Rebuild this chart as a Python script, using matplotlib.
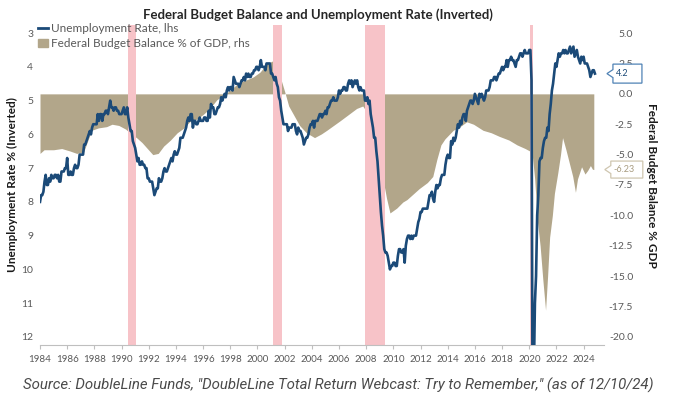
import numpy as np
import matplotlib
matplotlib.use("Agg")
import matplotlib.pyplot as plt
from matplotlib.lines import Line2D
from matplotlib.patches import Patch, Polygon
from matplotlib.transforms import Affine2D

# unemployment rate, monthly, Jan 1984 .. Nov 2024 (lhs, inverted)
unemp = [
    8.0, 7.8, 7.8, 7.7, 7.4, 7.2, 7.5, 7.5, 7.3, 7.4, 7.2, 7.3,   # 1984
    7.3, 7.2, 7.2, 7.3, 7.2, 7.4, 7.4, 7.1, 7.1, 7.1, 7.0, 7.0,   # 1985
    6.7, 7.2, 7.2, 7.1, 7.2, 7.2, 7.0, 6.9, 7.0, 7.0, 6.9, 6.6,   # 1986
    6.6, 6.6, 6.6, 6.3, 6.3, 6.2, 6.1, 6.0, 5.9, 6.0, 5.8, 5.7,   # 1987
    5.7, 5.7, 5.7, 5.4, 5.6, 5.4, 5.4, 5.6, 5.4, 5.4, 5.3, 5.3,   # 1988
    5.4, 5.2, 5.0, 5.2, 5.2, 5.3, 5.2, 5.2, 5.3, 5.3, 5.4, 5.4,   # 1989
    5.4, 5.3, 5.2, 5.4, 5.4, 5.2, 5.5, 5.7, 5.9, 5.9, 6.2, 6.3,   # 1990
    6.4, 6.6, 6.8, 6.7, 6.9, 6.9, 6.8, 6.9, 6.9, 7.0, 7.0, 7.3,   # 1991
    7.3, 7.4, 7.4, 7.4, 7.6, 7.8, 7.7, 7.6, 7.6, 7.3, 7.4, 7.4,   # 1992
    7.3, 7.1, 7.0, 7.1, 7.1, 7.0, 6.9, 6.8, 6.7, 6.8, 6.6, 6.5,   # 1993
    6.6, 6.6, 6.5, 6.4, 6.1, 6.1, 6.1, 6.0, 5.9, 5.8, 5.6, 5.5,   # 1994
    5.6, 5.4, 5.4, 5.8, 5.6, 5.6, 5.7, 5.7, 5.6, 5.5, 5.6, 5.6,   # 1995
    5.6, 5.5, 5.5, 5.6, 5.6, 5.3, 5.5, 5.1, 5.2, 5.2, 5.4, 5.4,   # 1996
    5.3, 5.2, 5.2, 5.1, 4.9, 5.0, 4.9, 4.8, 4.9, 4.7, 4.6, 4.7,   # 1997
    4.6, 4.6, 4.7, 4.3, 4.4, 4.5, 4.5, 4.5, 4.6, 4.5, 4.4, 4.4,   # 1998
    4.3, 4.4, 4.2, 4.3, 4.2, 4.3, 4.3, 4.2, 4.2, 4.1, 4.1, 4.0,   # 1999
    4.0, 4.1, 4.0, 3.8, 4.0, 4.0, 4.0, 4.1, 3.9, 3.9, 3.9, 3.9,   # 2000
    4.2, 4.2, 4.3, 4.4, 4.3, 4.5, 4.6, 4.9, 5.0, 5.3, 5.5, 5.7,   # 2001
    5.7, 5.7, 5.7, 5.9, 5.8, 5.8, 5.8, 5.7, 5.7, 5.7, 5.9, 6.0,   # 2002
    5.8, 5.9, 5.9, 6.0, 6.1, 6.3, 6.2, 6.1, 6.1, 6.0, 5.8, 5.7,   # 2003
    5.7, 5.6, 5.8, 5.6, 5.6, 5.6, 5.5, 5.4, 5.4, 5.5, 5.4, 5.4,   # 2004
    5.3, 5.4, 5.2, 5.2, 5.1, 5.0, 5.0, 4.9, 5.0, 5.0, 5.0, 4.9,   # 2005
    4.7, 4.8, 4.7, 4.7, 4.6, 4.6, 4.7, 4.7, 4.5, 4.4, 4.5, 4.4,   # 2006
    4.6, 4.5, 4.4, 4.5, 4.4, 4.6, 4.7, 4.6, 4.7, 4.7, 4.7, 5.0,   # 2007
    5.0, 4.9, 5.1, 5.0, 5.4, 5.6, 5.8, 6.1, 6.1, 6.5, 6.8, 7.3,   # 2008
    7.8, 8.3, 8.7, 9.0, 9.4, 9.5, 9.5, 9.6, 9.8, 10.0, 9.9, 9.9,  # 2009
    9.8, 9.8, 9.9, 9.9, 9.6, 9.4, 9.4, 9.5, 9.5, 9.4, 9.8, 9.3,   # 2010
    9.1, 9.0, 9.0, 9.1, 9.0, 9.1, 9.0, 9.0, 9.0, 8.8, 8.6, 8.5,   # 2011
    8.3, 8.3, 8.2, 8.2, 8.2, 8.2, 8.2, 8.0, 7.8, 7.8, 7.7, 7.9,   # 2012
    8.0, 7.7, 7.5, 7.6, 7.5, 7.5, 7.3, 7.2, 7.2, 7.2, 6.9, 6.7,   # 2013
    6.6, 6.7, 6.7, 6.2, 6.3, 6.1, 6.2, 6.1, 5.9, 5.7, 5.8, 5.6,   # 2014
    5.7, 5.5, 5.4, 5.4, 5.6, 5.3, 5.2, 5.1, 5.0, 5.0, 5.1, 5.0,   # 2015
    4.8, 4.9, 5.0, 5.1, 4.8, 4.9, 4.8, 4.9, 5.0, 4.9, 4.7, 4.7,   # 2016
    4.7, 4.6, 4.4, 4.4, 4.4, 4.3, 4.3, 4.4, 4.3, 4.2, 4.2, 4.1,   # 2017
    4.0, 4.1, 4.0, 4.0, 3.8, 4.0, 3.8, 3.8, 3.7, 3.8, 3.8, 3.9,   # 2018
    4.0, 3.8, 3.8, 3.7, 3.6, 3.6, 3.7, 3.6, 3.5, 3.6, 3.6, 3.6,   # 2019
    3.5, 3.5, 4.4, 14.8, 13.2, 11.0, 10.2, 8.4, 7.8, 6.8, 6.7, 6.7,  # 2020
    6.4, 6.2, 6.1, 6.1, 5.8, 5.9, 5.4, 5.1, 4.7, 4.5, 4.2, 3.9,   # 2021
    4.0, 3.8, 3.6, 3.7, 3.6, 3.6, 3.5, 3.6, 3.5, 3.6, 3.6, 3.5,   # 2022
    3.4, 3.6, 3.5, 3.4, 3.7, 3.6, 3.5, 3.7, 3.8, 3.9, 3.7, 3.8,   # 2023
    3.7, 3.9, 3.9, 3.9, 4.0, 4.1, 4.3, 4.2, 4.1, 4.1, 4.2,        # 2024
]
unemp_t = 1984 + np.arange(len(unemp)) / 12.0

# federal budget balance % of GDP (rhs)
bud_t = [1984.0, 1984.3, 1985.0, 1985.6, 1986.2, 1986.7, 1987.2, 1987.5, 1987.8, 1988.3,
         1988.9, 1989.3, 1989.8, 1990.3, 1990.7, 1991.1, 1991.5, 1991.9, 1992.3, 1992.7,
         1993.1, 1993.6, 1994.1, 1994.6, 1995.0, 1995.5, 1996.0, 1996.5, 1997.0, 1997.5,
         1998.0, 1998.4, 1998.8, 1999.3, 1999.7, 2000.2, 2000.7, 2001.1, 2001.4, 2001.7,
         2002.0, 2002.3, 2002.7, 2003.1, 2003.6, 2004.2, 2004.7, 2005.1, 2005.6, 2006.1,
         2006.7, 2007.3, 2007.75, 2008.1, 2008.4, 2008.8, 2009.2, 2009.5, 2009.75, 2010.25,
         2010.7, 2011.0, 2011.4, 2011.9, 2012.5, 2012.9, 2013.2, 2013.5, 2013.8, 2014.4,
         2014.9, 2015.4, 2015.9, 2016.6, 2017.2, 2017.8, 2018.5, 2019.1, 2019.7, 2020.2,
         2020.4, 2020.6, 2020.8, 2021.0, 2021.2, 2021.35, 2021.5, 2021.7, 2021.85, 2022.1,
         2022.3, 2022.45, 2022.7, 2022.95, 2023.2, 2023.4, 2023.55, 2023.85, 2024.1, 2024.3,
         2024.5, 2024.65, 2024.75]
bud_v = [-4.9, -4.6, -4.6, -4.5, -4.7, -4.9, -4.8, -3.9, -3.0, -2.8,
         -2.7, -2.5, -2.6, -2.9, -3.3, -3.6, -4.0, -4.5, -5.0, -4.9,
         -4.3, -3.8, -3.2, -2.8, -2.3, -2.1, -1.7, -1.2, -0.5, -0.1,
         0.3, 0.7, 1.0, 1.2, 1.4, 1.8, 2.5, 2.7, 2.3, 1.3,
         0.2, -1.0, -1.8, -2.6, -3.2, -3.6, -3.3, -3.0, -2.6, -2.2,
         -1.7, -1.2, -1.0, -1.6, -2.6, -4.9, -6.8, -8.6, -9.8, -9.4,
         -8.9, -8.7, -8.3, -7.8, -7.3, -6.8, -5.4, -4.2, -3.7, -3.0,
         -2.7, -2.3, -2.5, -3.0, -3.2, -3.5, -3.8, -4.2, -4.5, -4.8,
         -7.0, -10.5, -12.5, -15.3, -17.8, -15.0, -11.8, -10.0, -8.2, -6.5,
         -5.0, -3.6, -4.6, -5.7, -6.8, -8.1, -7.0, -6.0, -6.6, -6.3,
         -5.9, -6.2, -6.23]

# recessions
rec_start = [1990.45, 2001.15, 2007.92, 2020.08]
rec_end = [1991.1, 2001.82, 2009.42, 2020.3]

years = list(range(1984, 2025, 2))
left_ticks = list(range(3, 13))
right_ticks = [5.0, 2.5, 0.0, -2.5, -5.0, -7.5, -10.0, -12.5, -15.0, -17.5, -20.0]

navy = "#1b4a78"
tan = "#b2a68a"
pink = "#f7c3c8"
grey = "#595959"

plt.rcParams['font.family'] = ['Lato', 'DejaVu Sans']

fig = plt.figure(figsize=(6.76, 4.05), dpi=100)
ax = fig.add_axes([40 / 676, 1 - 345 / 405, 564 / 676, 320 / 405])
ax2 = ax.twinx()

# budget balance (rhs) + recession bars on the lower axes
ax.fill_between(bud_t, bud_v, 0, color=tan, linewidth=0, zorder=1)
for s, e in zip(rec_start, rec_end):
    ax.axvspan(s, e, color=pink, linewidth=0, zorder=2)
pad = 0.24 * 25 / 9
ax.set_ylim(-20 - pad, 5 + pad)
ax.set_xlim(1984, 2025.5)
ax.yaxis.tick_right()
ax.set_yticks(right_ticks)
ax.set_yticklabels(["%.1f" % v for v in right_ticks])
for lab in ax.get_yticklabels():
    lab.set_horizontalalignment('right')
ax.tick_params(axis='y', length=0, pad=21, labelsize=7.5, labelcolor=grey)

# unemployment (lhs, inverted) on top
ax2.plot(unemp_t, unemp, color=navy, lw=1.9, zorder=3)
ax2.set_ylim(12.24, 2.76)
ax2.yaxis.tick_left()
ax2.set_yticks(left_ticks)
ax2.tick_params(axis='y', length=0, pad=5, labelsize=7.5, labelcolor=grey)

ax.set_xticks(years)
ax.set_xticklabels([str(y) for y in years])
ax.tick_params(axis='x', length=3, color="#bfbfbf", labelsize=7, labelcolor=grey, pad=4)

for a in (ax, ax2):
    for sp in ("top", "left", "right"):
        a.spines[sp].set_visible(False)
ax2.spines["bottom"].set_visible(False)
ax.spines["bottom"].set_color("#bfbfbf")


def callout(axis, x, y, label, edge, txtcol, tip, box, w, h):
    # box with a small "<" notch, anchored at the last data point (pixels)
    px, py = axis.transData.transform((x, y))
    tr = Affine2D().translate(px, py)
    verts = [(tip, 0), (box, 4), (box, h / 2), (box + w, h / 2),
             (box + w, -h / 2), (box, -h / 2), (box, -4)]
    axis.add_patch(Polygon(verts, closed=True, fc="white", ec=edge, lw=0.9,
                           transform=tr, clip_on=False, zorder=10))
    axis.text(box + 3, 0, label, transform=tr, ha="left", va="center",
              fontsize=6.5, color=txtcol, clip_on=False, zorder=11)


callout(ax2, unemp_t[-1], unemp[-1], "%.1f" % unemp[-1], "#4f82b5", navy, 12, 18, 29, 19)
callout(ax, bud_t[-1], bud_v[-1], "%.2f" % bud_v[-1], "#cfc6b0", "#a89c80", 11, 17, 32, 17)

handles = [Line2D([0], [0], color=navy, lw=2), Patch(color=tan)]
leg = ax2.legend(handles, ["Unemployment Rate, lhs", "Federal Budget Balance % of GDP, rhs"],
                 loc='upper left', bbox_to_anchor=(-0.005, 1.01), frameon=False,
                 fontsize=8.5, handlelength=0.8, handleheight=0.6, handletextpad=0.3,
                 labelspacing=0.35, borderaxespad=0, borderpad=0.1)
for t in leg.get_texts():
    t.set_color(grey)

fig.text(318 / 676, 1 - 15 / 405, "Federal Budget Balance and Unemployment Rate (Inverted)",
         ha='center', va='center', fontsize=9.5, fontweight='bold', color="#262626")
fig.text(12 / 676, 1 - 185 / 405, "Unemployment Rate % (Inverted)", rotation=90,
         ha='center', va='center', fontsize=8.5, fontweight='bold', color="#1a1a1a")
fig.text(652 / 676, 1 - 185 / 405, "Federal Budget Balance % GDP", rotation=-90,
         ha='center', va='center', fontsize=8.5, fontweight='bold', color="#1a1a1a")
fig.text(338 / 676, 1 - 385 / 405,
         'Source: DoubleLine Funds, "DoubleLine Total Return Webcast: Try to Remember," (as of 12/10/24)',
         ha='center', va='center', fontsize=10.8, style='italic', color="#4a4a4a",
         family=['Roboto', 'DejaVu Sans'])

fig.savefig("out.png", dpi=100)
